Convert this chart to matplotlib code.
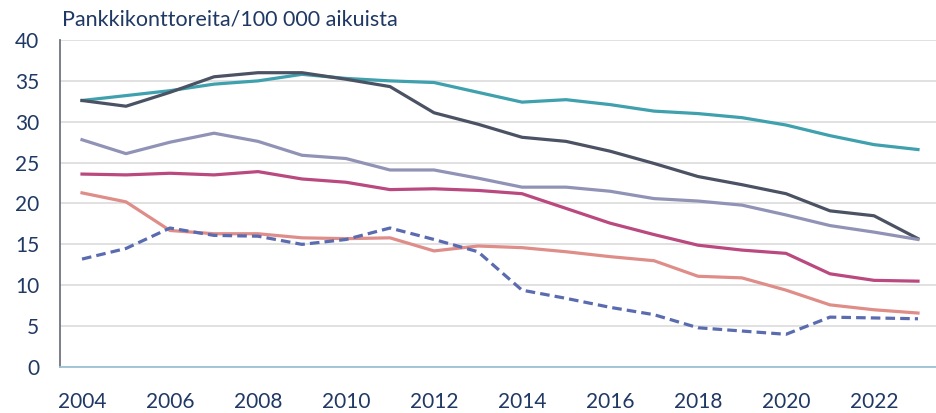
import matplotlib
matplotlib.use("Agg")
import matplotlib.pyplot as plt

years = list(range(2004, 2024))

teal = [32.6, 33.2, 33.8, 34.6, 35.0, 35.8, 35.3, 35.0, 34.8, 33.6,
        32.4, 32.7, 32.1, 31.3, 31.0, 30.5, 29.6, 28.3, 27.2, 26.6]
dark = [32.6, 31.9, 33.6, 35.5, 36.0, 36.0, 35.2, 34.3, 31.1, 29.7,
        28.1, 27.6, 26.4, 24.9, 23.3, 22.3, 21.2, 19.1, 18.5, 15.7]
lilac = [27.8, 26.1, 27.5, 28.6, 27.6, 25.9, 25.5, 24.1, 24.1, 23.1,
         22.0, 22.0, 21.5, 20.6, 20.3, 19.8, 18.6, 17.3, 16.5, 15.6]
magenta = [23.6, 23.5, 23.7, 23.5, 23.9, 23.0, 22.6, 21.7, 21.8, 21.6,
           21.2, 19.4, 17.6, 16.2, 14.9, 14.3, 13.9, 11.4, 10.6, 10.5]
salmon = [21.3, 20.2, 16.7, 16.3, 16.3, 15.8, 15.7, 15.8, 14.2, 14.8,
          14.6, 14.1, 13.5, 13.0, 11.1, 10.9, 9.4, 7.6, 7.0, 6.6]
dashed = [13.2, 14.5, 17.0, 16.1, 16.0, 15.0, 15.6, 17.0, 15.6, 14.1,
          9.4, 8.4, 7.3, 6.4, 4.8, 4.4, 4.0, 6.1, 6.0, 5.9]

title = "Pankkikonttoreita/100 000 aikuista"
txt = "#1F3864"

plt.rcParams['font.family'] = ['Lato', 'DejaVu Sans']

fig = plt.figure(figsize=(9.37, 4.13), dpi=100)
ax = fig.add_axes([60 / 937, 46 / 413, 880 / 937, 327 / 413])

lw = 2.3
ax.plot(years, teal, color="#3FA0AE", lw=lw)
ax.plot(years, dark, color="#4B5263", lw=lw)
ax.plot(years, lilac, color="#9093B6", lw=lw)
ax.plot(years, magenta, color="#B9497E", lw=lw)
ax.plot(years, salmon, color="#DF8D88", lw=lw)
ax.plot(years, dashed, color="#5A6BB0", lw=lw, ls=(0, (3, 1.6)))

ax.set_xlim(2003.5, 2023.5)
ax.set_ylim(0, 40)
ax.set_yticks(range(0, 41, 5))
ax.set_xticks(range(2004, 2023, 2))
ax.grid(axis="y", color="#D9D9D9", lw=1.1)
ax.set_axisbelow(True)

for s in ["top", "right"]:
    ax.spines[s].set_visible(False)
ax.spines["left"].set_color("#6E7480")
ax.spines["left"].set_linewidth(1.3)
ax.spines["bottom"].set_color("#9CC3D2")
ax.spines["bottom"].set_linewidth(1.3)

ax.tick_params(length=0, labelsize=15, labelcolor=txt)
ax.tick_params(axis="x", pad=18)
ax.tick_params(axis="y", pad=15)

fig.text(62 / 937, 1 - 19 / 413, title, fontsize=15.5, color=txt,
         ha="left", va="center")

fig.savefig("out.png", dpi=100)
